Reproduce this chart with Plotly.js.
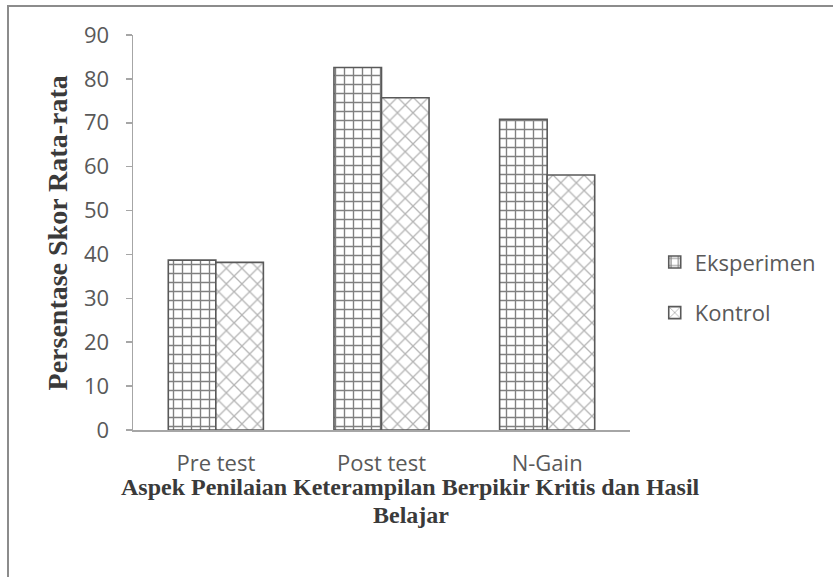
<!DOCTYPE html>
<html><head><meta charset="utf-8">
<script src="https://cdn.plot.ly/plotly-3.0.1.min.js"></script>
<style>
html,body{margin:0;padding:0;background:#fff;overflow:hidden;}
#chart{width:833px;height:577px;}
#frame{position:absolute;left:7px;top:5px;width:900px;height:700px;border-left:2px solid #8c8c8c;border-top:2px solid #8c8c8c;pointer-events:none;}
</style>
</head><body>
<div id="chart"></div><div id="frame"></div>
<script>
const categories = ['Pre test', 'Post test', 'N-Gain'];
const eksperimen = [38.7, 82.6, 70.8];
const kontrol = [38.2, 75.7, 58.1];
const seriesNames = ['Eksperimen', 'Kontrol'];
const yTickVals = [0, 10, 20, 30, 40, 50, 60, 70, 80, 90];
const yTitle = 'Persentase Skor Rata-rata';
const xTitleLine1 = 'Aspek Penilaian Keterampilan Berpikir Kritis dan Hasil';
const xTitleLine2 = 'Belajar';

const labelFont = {family: 'Open Sans', size: 22, color: '#595959'};
const yTitleFont = {family: 'Liberation Serif', size: 28, color: '#3a3a3a', weight: 'bold'};
const xTitleFont = {family: 'Liberation Serif', size: 24, color: '#3a3a3a', weight: 'bold'};

const traces = [
  {
    type: 'bar', name: seriesNames[0], x: categories, y: eksperimen,
    legendgroup: 'a',
    marker: {color: '#ffffff', line: {color: '#595959', width: 1.6},
      pattern: {shape: '+', fgcolor: '#808080', bgcolor: '#ffffff', size: 9, solidity: 0.28}},
    hoverinfo: 'x+y'
  },
  {
    type: 'bar', name: seriesNames[1], x: categories, y: kontrol,
    legendgroup: 'b',
    marker: {color: '#ffffff', line: {color: '#595959', width: 1.6},
      pattern: {shape: 'x', fgcolor: '#b5b5b5', bgcolor: '#ffffff', size: 11, solidity: 0.22}},
    hoverinfo: 'x+y'
  }
];

const layout = {
  width: 833, height: 577,
  margin: {l: 133, r: 203, t: 35, b: 147},
  paper_bgcolor: '#ffffff', plot_bgcolor: '#ffffff',
  barmode: 'group', bargap: 0.426, bargroupgap: 0,
  showlegend: true,
  legend: {xref: 'container', yref: 'container', x: 0.786, y: 0.582, xanchor: 'left', yanchor: 'top',
    font: labelFont, tracegroupgap: 19, traceorder: 'grouped', bgcolor: 'rgba(0,0,0,0)', itemwidth: 30},
  xaxis: {
    showline: true, linecolor: '#a6a6a6', linewidth: 1.5, ticks: '', automargin: false,
    tickfont: labelFont, ticklabelstandoff: 13, showgrid: false, zeroline: false
  },
  yaxis: {
    range: [0, 90], tickvals: yTickVals, showline: true, linecolor: '#a6a6a6', linewidth: 1.5,
    ticks: 'outside', ticklen: 6, tickcolor: '#a6a6a6', tickwidth: 1.5, automargin: false,
    tickfont: labelFont, ticklabelstandoff: 12, showgrid: false, zeroline: false
  },
  annotations: [
    {text: yTitle, xref: 'paper', yref: 'paper', x: -0.151, y: 0.5, textangle: -90,
      showarrow: false, font: yTitleFont, xanchor: 'center', yanchor: 'middle'},
    {text: xTitleLine1, xref: 'paper', yref: 'paper', x: 0.559, y: -0.144,
      showarrow: false, font: xTitleFont, xanchor: 'center', yanchor: 'middle'},
    {text: xTitleLine2, xref: 'paper', yref: 'paper', x: 0.559, y: -0.215,
      showarrow: false, font: xTitleFont, xanchor: 'center', yanchor: 'middle'}
  ]
};

Plotly.newPlot('chart', traces, layout, {displayModeBar: false, staticPlot: true});
</script>
</body></html>
